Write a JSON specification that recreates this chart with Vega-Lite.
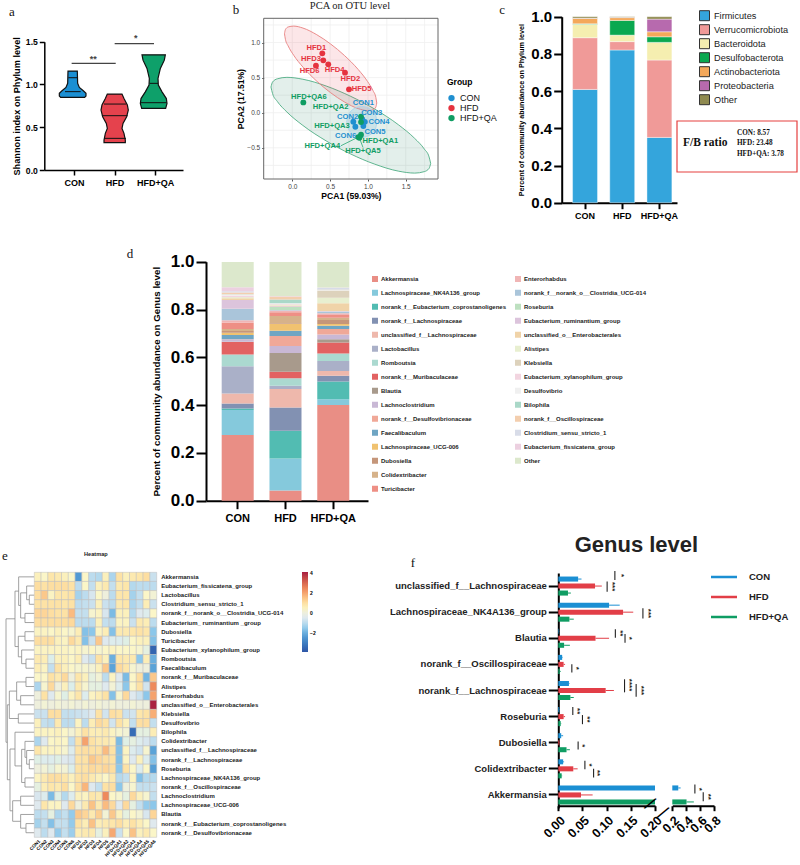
{"$schema":"https://vega.github.io/schema/vega-lite/v6.json","width":800,"height":865,"padding":0,"autosize":{"type":"none"},"background":"white",
"config":{"view":{"stroke":null},"axis":{"grid":false,"labelFont":"Liberation Sans","titleFont":"Liberation Sans","domainColor":"#000","tickColor":"#000","labelColor":"#000","titleColor":"#000"},"legend":{"labelFont":"Liberation Sans","titleFont":"Liberation Sans"},"text":{"font":"Liberation Sans"}},
"datasets":{
"violin":[{"g":"CON","y":1.157,"lo":0.852,"hi":1.082},{"g":"CON","y":1.013,"lo":0.844,"hi":1.09},{"g":"CON","y":0.966,"lo":0.802,"hi":1.132},{"g":"CON","y":0.927,"lo":0.704,"hi":1.23},{"g":"CON","y":0.896,"lo":0.638,"hi":1.296},{"g":"CON","y":0.865,"lo":0.638,"hi":1.296},{"g":"CON","y":0.849,"lo":0.671,"hi":1.263},
{"g":"HFD","y":0.888,"lo":1.823,"hi":2.185},{"g":"HFD","y":0.837,"lo":1.774,"hi":2.234},{"g":"HFD","y":0.76,"lo":1.691,"hi":2.317},{"g":"HFD","y":0.701,"lo":1.667,"hi":2.341},{"g":"HFD","y":0.623,"lo":1.708,"hi":2.3},{"g":"HFD","y":0.545,"lo":1.798,"hi":2.21},{"g":"HFD","y":0.487,"lo":1.823,"hi":2.185},{"g":"HFD","y":0.428,"lo":1.774,"hi":2.234},{"g":"HFD","y":0.35,"lo":1.741,"hi":2.267},{"g":"HFD","y":0.319,"lo":1.741,"hi":2.267},
{"g":"HFD+QA","y":1.346,"lo":2.679,"hi":3.255},{"g":"HFD+QA","y":1.284,"lo":2.704,"hi":3.23},{"g":"HFD+QA","y":1.187,"lo":2.802,"hi":3.132},{"g":"HFD+QA","y":1.07,"lo":2.86,"hi":3.074},{"g":"HFD+QA","y":0.992,"lo":2.852,"hi":3.082},{"g":"HFD+QA","y":0.914,"lo":2.761,"hi":3.173},{"g":"HFD+QA","y":0.835,"lo":2.654,"hi":3.28},{"g":"HFD+QA","y":0.777,"lo":2.638,"hi":3.296},{"g":"HFD+QA","y":0.72,"lo":2.671,"hi":3.263}],
"vlines":[{"y":1.079,"x":0.86,"x2":1.082},{"y":0.916,"x":0.778,"x2":1.165},{"y":0.771,"x":1.741,"x2":2.284},{"y":0.635,"x":1.69,"x2":2.325},{"y":0.37,"x":1.741,"x2":2.284},{"y":1.013,"x":2.868,"x2":3.074},{"y":0.787,"x":2.646,"x2":3.288}],
"vsig":[{"x":0.942,"x2":2.03,"y":1.247,"sx":1.477,"sy":1.3,"t":"**"},{"x":2.004,"x2":2.975,"y":1.477,"sx":2.523,"sy":1.54,"t":"*"}],
"ell":[{"g":"HFD+QA","x":-0.282,"lo":0.366,"hi":0.366},{"g":"HFD+QA","x":-0.261,"lo":0.273,"hi":0.437},{"g":"HFD+QA","x":-0.198,"lo":0.161,"hi":0.483},{"g":"HFD+QA","x":-0.071,"lo":0.01,"hi":0.504},{"g":"HFD+QA","x":0.14,"lo":-0.181,"hi":0.477},{"g":"HFD+QA","x":0.457,"lo":-0.407,"hi":0.377},{"g":"HFD+QA","x":0.774,"lo":-0.589,"hi":0.233},{"g":"HFD+QA","x":1.091,"lo":-0.733,"hi":0.051},{"g":"HFD+QA","x":1.408,"lo":-0.833,"hi":-0.175},{"g":"HFD+QA","x":1.619,"lo":-0.86,"hi":-0.366},{"g":"HFD+QA","x":1.746,"lo":-0.839,"hi":-0.517},{"g":"HFD+QA","x":1.809,"lo":-0.793,"hi":-0.629},{"g":"HFD+QA","x":1.83,"lo":-0.722,"hi":-0.722},
{"g":"HFD","x":-0.103,"lo":1.125,"hi":1.125},{"g":"HFD","x":-0.091,"lo":1.046,"hi":1.184},{"g":"HFD","x":-0.054,"lo":0.95,"hi":1.222},{"g":"HFD","x":0.019,"lo":0.818,"hi":1.234},{"g":"HFD","x":0.141,"lo":0.65,"hi":1.206},{"g":"HFD","x":0.324,"lo":0.449,"hi":1.111},{"g":"HFD","x":0.507,"lo":0.285,"hi":0.979},{"g":"HFD","x":0.69,"lo":0.153,"hi":0.815},{"g":"HFD","x":0.873,"lo":0.058,"hi":0.614},{"g":"HFD","x":0.995,"lo":0.03,"hi":0.446},{"g":"HFD","x":1.068,"lo":0.042,"hi":0.314},{"g":"HFD","x":1.105,"lo":0.08,"hi":0.218},{"g":"HFD","x":1.117,"lo":0.139,"hi":0.139},
{"g":"CON","x":0.72,"lo":-0.13,"hi":-0.13},{"g":"CON","x":0.736,"lo":-0.216,"hi":-0.044},{"g":"CON","x":0.76,"lo":-0.262,"hi":0.002},{"g":"CON","x":0.8,"lo":-0.306,"hi":0.046},{"g":"CON","x":0.86,"lo":-0.34,"hi":0.08},{"g":"CON","x":0.92,"lo":-0.35,"hi":0.09},{"g":"CON","x":0.98,"lo":-0.34,"hi":0.08},{"g":"CON","x":1.04,"lo":-0.306,"hi":0.046},{"g":"CON","x":1.08,"lo":-0.262,"hi":0.002},{"g":"CON","x":1.104,"lo":-0.216,"hi":-0.044},{"g":"CON","x":1.12,"lo":-0.13,"hi":-0.13}],
"pca":[{"n":"HFD1","g":"HFD","x":0.397,"y":0.846,"lx":0.318,"ly":0.922},{"n":"HFD3","g":"HFD","x":0.41,"y":0.746,"lx":0.247,"ly":0.77},{"n":"HFD4","g":"HFD","x":0.476,"y":0.689,"lx":0.56,"ly":0.613},{"n":"HFD6","g":"HFD","x":0.313,"y":0.67,"lx":0.229,"ly":0.594},{"n":"HFD2","g":"HFD","x":0.697,"y":0.57,"lx":0.768,"ly":0.475},{"n":"HFD5","g":"HFD","x":0.75,"y":0.333,"lx":0.917,"ly":0.333},
{"n":"CON1","g":"CON","x":0.92,"y":-0.09,"lx":0.94,"ly":0.133},{"n":"CON2","g":"CON","x":0.807,"y":-0.128,"lx":0.732,"ly":-0.057},{"n":"CON3","g":"CON","x":0.926,"y":-0.095,"lx":1.05,"ly":-0.005},{"n":"CON4","g":"CON","x":0.96,"y":-0.13,"lx":1.147,"ly":-0.138},{"n":"CON5","g":"CON","x":0.94,"y":-0.19,"lx":1.094,"ly":-0.271},{"n":"CON6","g":"CON","x":0.834,"y":-0.2,"lx":0.706,"ly":-0.333},
{"n":"HFD+QA1","g":"HFD+QA","x":0.909,"y":-0.314,"lx":1.165,"ly":-0.409},{"n":"HFD+QA2","g":"HFD+QA","x":0.909,"y":-0.057,"lx":0.507,"ly":0.081},{"n":"HFD+QA3","g":"HFD+QA","x":0.909,"y":-0.133,"lx":0.525,"ly":-0.195},{"n":"HFD+QA4","g":"HFD+QA","x":0.873,"y":-0.347,"lx":0.397,"ly":-0.47},{"n":"HFD+QA5","g":"HFD+QA","x":0.887,"y":-0.356,"lx":0.935,"ly":-0.546},{"n":"HFD+QA6","g":"HFD+QA","x":0.146,"y":0.147,"lx":0.22,"ly":0.223}],
"pcalink":[{"x":0.644,"y":-0.47,"x2":0.873,"y2":-0.347},{"x":0.935,"y":-0.494,"x2":0.887,"y2":-0.356},{"x":0.94,"y":-0.366,"x2":0.909,"y2":-0.314}],
"letters":[{"t":"a","x":-3.708,"y":1.434},{"t":"b","x":-0.745,"y":1.463},{"t":"c","x":2.774,"y":1.463},{"t":"d","x":-2.147,"y":-2.013},{"t":"e","x":-3.8,"y":-6.315},{"t":"f","x":1.596,"y":-6.415}],
"phylum":[{"g":"CON","p":"Firmicutes","o":1,"v":0.609},{"g":"CON","p":"Verrucomicrobiota","o":2,"v":0.278},{"g":"CON","p":"Bacteroidota","o":3,"v":0.072},{"g":"CON","p":"Desulfobacterota","o":4,"v":0.003},{"g":"CON","p":"Actinobacteriota","o":5,"v":0.029},{"g":"CON","p":"Proteobacteria","o":6,"v":0.001},{"g":"CON","p":"Other","o":7,"v":0.008},
{"g":"HFD","p":"Firmicutes","o":1,"v":0.821},{"g":"HFD","p":"Verrucomicrobiota","o":2,"v":0.045},{"g":"HFD","p":"Bacteroidota","o":3,"v":0.035},{"g":"HFD","p":"Desulfobacterota","o":4,"v":0.079},{"g":"HFD","p":"Actinobacteriota","o":5,"v":0.015},{"g":"HFD","p":"Proteobacteria","o":6,"v":0.002},{"g":"HFD","p":"Other","o":7,"v":0.003},
{"g":"HFD+QA","p":"Firmicutes","o":1,"v":0.351},{"g":"HFD+QA","p":"Verrucomicrobiota","o":2,"v":0.416},{"g":"HFD+QA","p":"Bacteroidota","o":3,"v":0.095},{"g":"HFD+QA","p":"Desulfobacterota","o":4,"v":0.03},{"g":"HFD+QA","p":"Actinobacteriota","o":5,"v":0.027},{"g":"HFD+QA","p":"Proteobacteria","o":6,"v":0.068},{"g":"HFD+QA","p":"Other","o":7,"v":0.013}],
"fb":[{"t":"CON: 8.57","x":0.5,"y":0.765},{"t":"HFD: 23.48","x":0.5,"y":0.57},{"t":"HFD+QA: 3.78","x":0.5,"y":0.36}],
"genera":[{"i":1,"name":"Akkermansia"},{"i":2,"name":"Lachnospiraceae_NK4A136_group"},{"i":3,"name":"norank_f__Eubacterium_coprostanoligenes"},{"i":4,"name":"norank_f__Lachnospiraceae"},{"i":5,"name":"unclassified_f__Lachnospiraceae"},{"i":6,"name":"Lactobacillus"},{"i":7,"name":"Romboutsia"},{"i":8,"name":"norank_f__Muribaculaceae"},{"i":9,"name":"Blautia"},{"i":10,"name":"Lachnoclostridium"},{"i":11,"name":"norank_f__Desulfovibrionaceae"},{"i":12,"name":"Faecalibaculum"},{"i":13,"name":"Lachnospiraceae_UCG-006"},{"i":14,"name":"Dubosiella"},{"i":15,"name":"Colidextribacter"},{"i":16,"name":"Turicibacter"},{"i":17,"name":"Enterorhabdus"},{"i":18,"name":"norank_f__norank_o__Clostridia_UCG-014"},{"i":19,"name":"Roseburia"},{"i":20,"name":"Eubacterium_ruminantium_group"},{"i":21,"name":"unclassified_o__Enterobacterales"},{"i":22,"name":"Alistipes"},{"i":23,"name":"Klebsiella"},{"i":24,"name":"Eubacterium_xylanophilum_group"},{"i":25,"name":"Desulfovibrio"},{"i":26,"name":"Bilophila"},{"i":27,"name":"norank_f__Oscillospiraceae"},{"i":28,"name":"Clostridium_sensu_stricto_1"},{"i":29,"name":"Eubacterium_fissicatena_group"},{"i":30,"name":"Other"},{"i":31,"name":" "}],
"genus":[{"g":"CON","i":1,"v":0.275},{"g":"CON","i":2,"v":0.104},{"g":"CON","i":3,"v":0.007},{"g":"CON","i":4,"v":0.021},{"g":"CON","i":5,"v":0.042},{"g":"CON","i":6,"v":0.114},{"g":"CON","i":7,"v":0.049},{"g":"CON","i":8,"v":0.052},{"g":"CON","i":9,"v":0.001},{"g":"CON","i":10,"v":0.01},{"g":"CON","i":11,"v":0.001},{"g":"CON","i":12,"v":0.017},{"g":"CON","i":13,"v":0.01},{"g":"CON","i":14,"v":0.007},{"g":"CON","i":15,"v":0.008},{"g":"CON","i":16,"v":0.027},{"g":"CON","i":17,"v":0.01},{"g":"CON","i":18,"v":0.047},{"g":"CON","i":19,"v":0.001},{"g":"CON","i":20,"v":0.037},{"g":"CON","i":21,"v":0.007},{"g":"CON","i":22,"v":0.004},{"g":"CON","i":23,"v":0.001},{"g":"CON","i":24,"v":0.007},{"g":"CON","i":25,"v":0.004},{"g":"CON","i":26,"v":0.001},{"g":"CON","i":27,"v":0.007},{"g":"CON","i":28,"v":0.005},{"g":"CON","i":29,"v":0.017},{"g":"CON","i":30,"v":0.106},{"g":"CON","i":31,"v":0},
{"g":"HFD","i":1,"v":0.043},{"g":"HFD","i":2,"v":0.134},{"g":"HFD","i":3,"v":0.116},{"g":"HFD","i":4,"v":0.097},{"g":"HFD","i":5,"v":0.077},{"g":"HFD","i":6,"v":0.014},{"g":"HFD","i":7,"v":0.031},{"g":"HFD","i":8,"v":0.028},{"g":"HFD","i":9,"v":0.078},{"g":"HFD","i":10,"v":0.029},{"g":"HFD","i":11,"v":0.042},{"g":"HFD","i":12,"v":0.022},{"g":"HFD","i":13,"v":0.028},{"g":"HFD","i":14,"v":0.003},{"g":"HFD","i":15,"v":0.031},{"g":"HFD","i":16,"v":0.016},{"g":"HFD","i":17,"v":0.007},{"g":"HFD","i":18,"v":0.002},{"g":"HFD","i":19,"v":0.012},{"g":"HFD","i":20,"v":0.004},{"g":"HFD","i":21,"v":0.003},{"g":"HFD","i":22,"v":0.003},{"g":"HFD","i":23,"v":0.001},{"g":"HFD","i":24,"v":0.002},{"g":"HFD","i":25,"v":0.003},{"g":"HFD","i":26,"v":0.016},{"g":"HFD","i":27,"v":0.012},{"g":"HFD","i":28,"v":0.001},{"g":"HFD","i":29,"v":0.001},{"g":"HFD","i":30,"v":0.143},
{"g":"HFD+QA","i":1,"v":0.4},{"g":"HFD+QA","i":2,"v":0.024},{"g":"HFD+QA","i":3,"v":0.075},{"g":"HFD+QA","i":4,"v":0.024},{"g":"HFD+QA","i":5,"v":0.02},{"g":"HFD+QA","i":6,"v":0.041},{"g":"HFD+QA","i":7,"v":0.032},{"g":"HFD+QA","i":8,"v":0.046},{"g":"HFD+QA","i":9,"v":0.014},{"g":"HFD+QA","i":10,"v":0.019},{"g":"HFD+QA","i":11,"v":0.023},{"g":"HFD+QA","i":12,"v":0.014},{"g":"HFD+QA","i":13,"v":0.007},{"g":"HFD+QA","i":14,"v":0.017},{"g":"HFD+QA","i":15,"v":0.01},{"g":"HFD+QA","i":16,"v":0.011},{"g":"HFD+QA","i":17,"v":0.007},{"g":"HFD+QA","i":18,"v":0.007},{"g":"HFD+QA","i":19,"v":0.001},{"g":"HFD+QA","i":20,"v":0.002},{"g":"HFD+QA","i":21,"v":0.032},{"g":"HFD+QA","i":22,"v":0.023},{"g":"HFD+QA","i":23,"v":0.03},{"g":"HFD+QA","i":24,"v":0.001},{"g":"HFD+QA","i":25,"v":0.002},{"g":"HFD+QA","i":26,"v":0.001},{"g":"HFD+QA","i":27,"v":0.001},{"g":"HFD+QA","i":28,"v":0.007},{"g":"HFD+QA","i":29,"v":0.001},{"g":"HFD+QA","i":30,"v":0.107}],
"dendro":[{"m":88,"ya":3,"xa":103,"yb":4,"xb":103},{"m":75,"ya":5,"xa":103,"yb":6,"xb":103},{"m":80,"ya":2,"xa":103,"yb":3.5,"xb":88},{"m":62,"ya":2.75,"xa":80,"yb":5.5,"xb":75},{"m":56,"ya":1,"xa":103,"yb":4.125,"xb":62},{"m":75,"ya":7,"xa":103,"yb":8,"xb":103},{"m":78,"ya":10,"xa":103,"yb":11,"xb":103},{"m":65,"ya":9,"xa":103,"yb":10.5,"xb":78},{"m":55,"ya":7.5,"xa":75,"yb":9.75,"xb":65},{"m":45,"ya":2.56,"xa":56,"yb":8.625,"xb":55},{"m":78,"ya":12,"xa":103,"yb":13,"xb":103},{"m":62,"ya":14,"xa":103,"yb":15,"xb":103},{"m":50,"ya":12.5,"xa":78,"yb":14.5,"xb":62},{"m":55,"ya":16,"xa":103,"yb":17,"xb":103},{"m":28,"ya":13.5,"xa":50,"yb":16.5,"xb":55},{"m":88,"ya":21,"xa":103,"yb":22,"xb":103},{"m":80,"ya":20,"xa":103,"yb":21.5,"xb":88},{"m":75,"ya":19,"xa":103,"yb":20.75,"xb":80},{"m":75,"ya":23,"xa":103,"yb":24,"xb":103},{"m":65,"ya":19.875,"xa":75,"yb":23.5,"xb":75},{"m":45,"ya":18,"xa":103,"yb":21.69,"xb":65},{"m":62,"ya":25,"xa":103,"yb":26,"xb":103},{"m":78,"ya":28,"xa":103,"yb":29,"xb":103},{"m":62,"ya":27,"xa":103,"yb":28.5,"xb":78},{"m":38,"ya":25.5,"xa":62,"yb":27.75,"xb":62},{"m":30,"ya":19.84,"xa":45,"yb":26.6,"xb":38},{"m":22,"ya":15,"xa":28,"yb":23.2,"xb":30},{"m":18,"ya":5.59,"xa":45,"yb":19.1,"xb":22}],
"hgenera":[{"r":1,"name":"Akkermansia"},{"r":2,"name":"Eubacterium_fissicatena_group"},{"r":3,"name":"Lactobacillus"},{"r":4,"name":"Clostridium_sensu_stricto_1"},{"r":5,"name":"norank_f__norank_o__Clostridia_UCG-014"},{"r":6,"name":"Eubacterium_ ruminantium _group"},{"r":7,"name":"Dubosiella"},{"r":8,"name":"Turicibacter"},{"r":9,"name":"Eubacterium_xylanophilum_group"},{"r":10,"name":"Romboutsia"},{"r":11,"name":"Faecalibaculum"},{"r":12,"name":"norank_f__Muribaculaceae"},{"r":13,"name":"Alistipes"},{"r":14,"name":"Enterorhabdus"},{"r":15,"name":"unclassified_o__Enterobacterales"},{"r":16,"name":"Klebsiella"},{"r":17,"name":"Desulfovibrio"},{"r":18,"name":"Bilophila"},{"r":19,"name":"Colidextribacter"},{"r":20,"name":"unclassified_f__Lachnospiraceae"},{"r":21,"name":"norank_f__Lachnospiraceae"},{"r":22,"name":"Roseburia"},{"r":23,"name":"Lachnospiraceae_NK4A136_group"},{"r":24,"name":"norank_f__Oscillospiraceae"},{"r":25,"name":"Lachnoclostridium"},{"r":26,"name":"Lachnospiraceae_UCG-006"},{"r":27,"name":"Blautia"},{"r":28,"name":"norank_f__Eubacterium_coprostanoligenes"},{"r":29,"name":"norank_f__Desulfovibrionaceae"}],
"heat":[
{"r":1,"s":1,"v":0.5},{"r":1,"s":2,"v":0.3},{"r":1,"s":3,"v":0.8},{"r":1,"s":4,"v":0.7},{"r":1,"s":5,"v":0.5},{"r":1,"s":6,"v":0.3},{"r":1,"s":7,"v":-2.4},{"r":1,"s":8,"v":0.3},{"r":1,"s":9,"v":-1},{"r":1,"s":10,"v":-1.1},{"r":1,"s":11,"v":0.5},{"r":1,"s":12,"v":-1.2},{"r":1,"s":13,"v":0.9},{"r":1,"s":14,"v":0.5},{"r":1,"s":15,"v":0.7},{"r":1,"s":16,"v":0.8},{"r":1,"s":17,"v":1},{"r":1,"s":18,"v":-0.8},
{"r":2,"s":1,"v":1},{"r":2,"s":2,"v":0.9},{"r":2,"s":3,"v":1},{"r":2,"s":4,"v":1},{"r":2,"s":5,"v":1},{"r":2,"s":6,"v":0.9},{"r":2,"s":7,"v":-1},{"r":2,"s":8,"v":0.3},{"r":2,"s":9,"v":-0.9},{"r":2,"s":10,"v":0.5},{"r":2,"s":11,"v":0.7},{"r":2,"s":12,"v":-0.9},{"r":2,"s":13,"v":0.7},{"r":2,"s":14,"v":0.8},{"r":2,"s":15,"v":-1.1},{"r":2,"s":16,"v":-1},{"r":2,"s":17,"v":-1},{"r":2,"s":18,"v":-1},
{"r":3,"s":1,"v":1},{"r":3,"s":2,"v":1.4},{"r":3,"s":3,"v":0.4},{"r":3,"s":4,"v":0.8},{"r":3,"s":5,"v":0.8},{"r":3,"s":6,"v":0.9},{"r":3,"s":7,"v":-1.3},{"r":3,"s":8,"v":-1},{"r":3,"s":9,"v":-0.6},{"r":3,"s":10,"v":0.3},{"r":3,"s":11,"v":0},{"r":3,"s":12,"v":-1},{"r":3,"s":13,"v":0.8},{"r":3,"s":14,"v":0.8},{"r":3,"s":15,"v":-1.3},{"r":3,"s":16,"v":-0.9},{"r":3,"s":17,"v":0.3},{"r":3,"s":18,"v":0.1},
{"r":4,"s":1,"v":0.9},{"r":4,"s":2,"v":0.9},{"r":4,"s":3,"v":0.9},{"r":4,"s":4,"v":0.9},{"r":4,"s":5,"v":0.8},{"r":4,"s":6,"v":0.9},{"r":4,"s":7,"v":-1},{"r":4,"s":8,"v":-0.9},{"r":4,"s":9,"v":-0.8},{"r":4,"s":10,"v":0.5},{"r":4,"s":11,"v":-0.8},{"r":4,"s":12,"v":-1},{"r":4,"s":13,"v":0.7},{"r":4,"s":14,"v":0.8},{"r":4,"s":15,"v":-1.2},{"r":4,"s":16,"v":-0.9},{"r":4,"s":17,"v":0.6},{"r":4,"s":18,"v":-0.8},
{"r":5,"s":1,"v":1.2},{"r":5,"s":2,"v":1.2},{"r":5,"s":3,"v":1},{"r":5,"s":4,"v":0.9},{"r":5,"s":5,"v":0.9},{"r":5,"s":6,"v":1.6},{"r":5,"s":7,"v":-0.9},{"r":5,"s":8,"v":-0.9},{"r":5,"s":9,"v":0.2},{"r":5,"s":10,"v":0.4},{"r":5,"s":11,"v":-0.6},{"r":5,"s":12,"v":-1.8},{"r":5,"s":13,"v":0.5},{"r":5,"s":14,"v":0.5},{"r":5,"s":15,"v":-1.1},{"r":5,"s":16,"v":-0.5},{"r":5,"s":17,"v":-0.4},{"r":5,"s":18,"v":0.3},
{"r":6,"s":1,"v":1},{"r":6,"s":2,"v":1},{"r":6,"s":3,"v":1},{"r":6,"s":4,"v":1},{"r":6,"s":5,"v":1},{"r":6,"s":6,"v":1.1},{"r":6,"s":7,"v":-1},{"r":6,"s":8,"v":-1},{"r":6,"s":9,"v":-1},{"r":6,"s":10,"v":0.5},{"r":6,"s":11,"v":-0.9},{"r":6,"s":12,"v":-1},{"r":6,"s":13,"v":0.4},{"r":6,"s":14,"v":0.4},{"r":6,"s":15,"v":-0.8},{"r":6,"s":16,"v":0.7},{"r":6,"s":17,"v":0.6},{"r":6,"s":18,"v":-1},
{"r":7,"s":1,"v":0.4},{"r":7,"s":2,"v":0.4},{"r":7,"s":3,"v":0.3},{"r":7,"s":4,"v":0.5},{"r":7,"s":5,"v":0.3},{"r":7,"s":6,"v":0.2},{"r":7,"s":7,"v":0.6},{"r":7,"s":8,"v":-1.7},{"r":7,"s":9,"v":-1.6},{"r":7,"s":10,"v":0.4},{"r":7,"s":11,"v":0.6},{"r":7,"s":12,"v":-1.7},{"r":7,"s":13,"v":0.7},{"r":7,"s":14,"v":0.7},{"r":7,"s":15,"v":0.8},{"r":7,"s":16,"v":0.9},{"r":7,"s":17,"v":0.8},{"r":7,"s":18,"v":-1.6},
{"r":8,"s":1,"v":1},{"r":8,"s":2,"v":1},{"r":8,"s":3,"v":1},{"r":8,"s":4,"v":0.5},{"r":8,"s":5,"v":0.4},{"r":8,"s":6,"v":1.1},{"r":8,"s":7,"v":0.7},{"r":8,"s":8,"v":-1.7},{"r":8,"s":9,"v":-0.8},{"r":8,"s":10,"v":1.4},{"r":8,"s":11,"v":-0.5},{"r":8,"s":12,"v":-0.4},{"r":8,"s":13,"v":-0.4},{"r":8,"s":14,"v":-0.2},{"r":8,"s":15,"v":0.3},{"r":8,"s":16,"v":0.5},{"r":8,"s":17,"v":0.5},{"r":8,"s":18,"v":-1.7},
{"r":9,"s":1,"v":0.4},{"r":9,"s":2,"v":0.4},{"r":9,"s":3,"v":0.4},{"r":9,"s":4,"v":0.4},{"r":9,"s":5,"v":0.4},{"r":9,"s":6,"v":0.3},{"r":9,"s":7,"v":0.4},{"r":9,"s":8,"v":0.2},{"r":9,"s":9,"v":0.3},{"r":9,"s":10,"v":0.2},{"r":9,"s":11,"v":0.3},{"r":9,"s":12,"v":0.4},{"r":9,"s":13,"v":0.3},{"r":9,"s":14,"v":0.3},{"r":9,"s":15,"v":0.3},{"r":9,"s":16,"v":0.2},{"r":9,"s":17,"v":-0.1},{"r":9,"s":18,"v":-3.6},
{"r":10,"s":1,"v":0.7},{"r":10,"s":2,"v":0.6},{"r":10,"s":3,"v":-0.3},{"r":10,"s":4,"v":0.5},{"r":10,"s":5,"v":0.5},{"r":10,"s":6,"v":0.3},{"r":10,"s":7,"v":0.6},{"r":10,"s":8,"v":-0.5},{"r":10,"s":9,"v":-0.8},{"r":10,"s":10,"v":0.9},{"r":10,"s":11,"v":0.5},{"r":10,"s":12,"v":-2},{"r":10,"s":13,"v":0.8},{"r":10,"s":14,"v":0.7},{"r":10,"s":15,"v":0.7},{"r":10,"s":16,"v":-1.6},{"r":10,"s":17,"v":0.6},{"r":10,"s":18,"v":-2},
{"r":11,"s":1,"v":0.6},{"r":11,"s":2,"v":0.4},{"r":11,"s":3,"v":-0.9},{"r":11,"s":4,"v":0.9},{"r":11,"s":5,"v":0.5},{"r":11,"s":6,"v":0.3},{"r":11,"s":7,"v":0.2},{"r":11,"s":8,"v":0.2},{"r":11,"s":9,"v":0.1},{"r":11,"s":10,"v":0.5},{"r":11,"s":11,"v":1.4},{"r":11,"s":12,"v":-2.2},{"r":11,"s":13,"v":1.1},{"r":11,"s":14,"v":0.8},{"r":11,"s":15,"v":0.2},{"r":11,"s":16,"v":0},{"r":11,"s":17,"v":0},{"r":11,"s":18,"v":-2.2},
{"r":12,"s":1,"v":0.3},{"r":12,"s":2,"v":0.3},{"r":12,"s":3,"v":0.9},{"r":12,"s":4,"v":0.7},{"r":12,"s":5,"v":1.1},{"r":12,"s":6,"v":0},{"r":12,"s":7,"v":0.8},{"r":12,"s":8,"v":0.5},{"r":12,"s":9,"v":-0.1},{"r":12,"s":10,"v":0.1},{"r":12,"s":11,"v":-1},{"r":12,"s":12,"v":0.4},{"r":12,"s":13,"v":-0.5},{"r":12,"s":14,"v":-1.8},{"r":12,"s":15,"v":0.3},{"r":12,"s":16,"v":1},{"r":12,"s":17,"v":-1.9},{"r":12,"s":18,"v":1.4},
{"r":13,"s":1,"v":-1.2},{"r":13,"s":2,"v":0.2},{"r":13,"s":3,"v":1.1},{"r":13,"s":4,"v":0},{"r":13,"s":5,"v":0.5},{"r":13,"s":6,"v":-0.3},{"r":13,"s":7,"v":0.7},{"r":13,"s":8,"v":0.2},{"r":13,"s":9,"v":-0.1},{"r":13,"s":10,"v":-0.1},{"r":13,"s":11,"v":-0.5},{"r":13,"s":12,"v":0.1},{"r":13,"s":13,"v":-0.4},{"r":13,"s":14,"v":-1.6},{"r":13,"s":15,"v":0.3},{"r":13,"s":16,"v":0.9},{"r":13,"s":17,"v":-0.7},{"r":13,"s":18,"v":2.4},
{"r":14,"s":1,"v":0},{"r":14,"s":2,"v":0.9},{"r":14,"s":3,"v":-0.5},{"r":14,"s":4,"v":0.2},{"r":14,"s":5,"v":-0.2},{"r":14,"s":6,"v":0.4},{"r":14,"s":7,"v":0.8},{"r":14,"s":8,"v":-0.4},{"r":14,"s":9,"v":0.4},{"r":14,"s":10,"v":0.6},{"r":14,"s":11,"v":0.9},{"r":14,"s":12,"v":-1.7},{"r":14,"s":13,"v":0.2},{"r":14,"s":14,"v":1.1},{"r":14,"s":15,"v":-0.5},{"r":14,"s":16,"v":-0.8},{"r":14,"s":17,"v":-1.6},{"r":14,"s":18,"v":2},
{"r":15,"s":1,"v":0},{"r":15,"s":2,"v":0.1},{"r":15,"s":3,"v":0},{"r":15,"s":4,"v":0.1},{"r":15,"s":5,"v":0},{"r":15,"s":6,"v":0.1},{"r":15,"s":7,"v":0},{"r":15,"s":8,"v":0.1},{"r":15,"s":9,"v":0},{"r":15,"s":10,"v":0.1},{"r":15,"s":11,"v":0},{"r":15,"s":12,"v":0.1},{"r":15,"s":13,"v":0},{"r":15,"s":14,"v":0},{"r":15,"s":15,"v":0.1},{"r":15,"s":16,"v":0},{"r":15,"s":17,"v":0},{"r":15,"s":18,"v":4},
{"r":16,"s":1,"v":-0.8},{"r":16,"s":2,"v":-0.8},{"r":16,"s":3,"v":1},{"r":16,"s":4,"v":1},{"r":16,"s":5,"v":-0.9},{"r":16,"s":6,"v":-0.9},{"r":16,"s":7,"v":-0.8},{"r":16,"s":8,"v":-0.7},{"r":16,"s":9,"v":-0.5},{"r":16,"s":10,"v":0.9},{"r":16,"s":11,"v":-0.7},{"r":16,"s":12,"v":1},{"r":16,"s":13,"v":0.9},{"r":16,"s":14,"v":-0.8},{"r":16,"s":15,"v":-0.7},{"r":16,"s":16,"v":0.8},{"r":16,"s":17,"v":0.9},{"r":16,"s":18,"v":1.8},
{"r":17,"s":1,"v":0.5},{"r":17,"s":2,"v":-0.9},{"r":17,"s":3,"v":-1},{"r":17,"s":4,"v":0.7},{"r":17,"s":5,"v":-1},{"r":17,"s":6,"v":-1},{"r":17,"s":7,"v":0.4},{"r":17,"s":8,"v":-1},{"r":17,"s":9,"v":0.6},{"r":17,"s":10,"v":1.1},{"r":17,"s":11,"v":0.9},{"r":17,"s":12,"v":-0.7},{"r":17,"s":13,"v":0.9},{"r":17,"s":14,"v":0.5},{"r":17,"s":15,"v":-0.9},{"r":17,"s":16,"v":1},{"r":17,"s":17,"v":1},{"r":17,"s":18,"v":-0.9},
{"r":18,"s":1,"v":0.4},{"r":18,"s":2,"v":0.4},{"r":18,"s":3,"v":0.4},{"r":18,"s":4,"v":0.5},{"r":18,"s":5,"v":0.3},{"r":18,"s":6,"v":0.1},{"r":18,"s":7,"v":0.5},{"r":18,"s":8,"v":0.9},{"r":18,"s":9,"v":0.6},{"r":18,"s":10,"v":0.6},{"r":18,"s":11,"v":0.7},{"r":18,"s":12,"v":0.4},{"r":18,"s":13,"v":0.2},{"r":18,"s":14,"v":0.1},{"r":18,"s":15,"v":-3.4},{"r":18,"s":16,"v":-0.1},{"r":18,"s":17,"v":-0.1},{"r":18,"s":18,"v":0.6},
{"r":19,"s":1,"v":-1.2},{"r":19,"s":2,"v":-0.5},{"r":19,"s":3,"v":0.3},{"r":19,"s":4,"v":0.4},{"r":19,"s":5,"v":0.3},{"r":19,"s":6,"v":-0.9},{"r":19,"s":7,"v":0.9},{"r":19,"s":8,"v":2},{"r":19,"s":9,"v":0.9},{"r":19,"s":10,"v":0.7},{"r":19,"s":11,"v":0.7},{"r":19,"s":12,"v":0.6},{"r":19,"s":13,"v":-1.8},{"r":19,"s":14,"v":-0.2},{"r":19,"s":15,"v":-0.1},{"r":19,"s":16,"v":-0.4},{"r":19,"s":17,"v":-0.6},{"r":19,"s":18,"v":-1},
{"r":20,"s":1,"v":0.8},{"r":20,"s":2,"v":0.4},{"r":20,"s":3,"v":0.4},{"r":20,"s":4,"v":0.4},{"r":20,"s":5,"v":0.2},{"r":20,"s":6,"v":-0.4},{"r":20,"s":7,"v":0.9},{"r":20,"s":8,"v":1},{"r":20,"s":9,"v":0.9},{"r":20,"s":10,"v":0.9},{"r":20,"s":11,"v":1.6},{"r":20,"s":12,"v":0.9},{"r":20,"s":13,"v":-1.7},{"r":20,"s":14,"v":0.4},{"r":20,"s":15,"v":-0.4},{"r":20,"s":16,"v":-0.7},{"r":20,"s":17,"v":0.2},{"r":20,"s":18,"v":-2.2},
{"r":21,"s":1,"v":-0.2},{"r":21,"s":2,"v":-0.4},{"r":21,"s":3,"v":-0.4},{"r":21,"s":4,"v":-0.2},{"r":21,"s":5,"v":-0.5},{"r":21,"s":6,"v":-0.6},{"r":21,"s":7,"v":0.9},{"r":21,"s":8,"v":0.9},{"r":21,"s":9,"v":1.4},{"r":21,"s":10,"v":1.2},{"r":21,"s":11,"v":1},{"r":21,"s":12,"v":0.9},{"r":21,"s":13,"v":-1.7},{"r":21,"s":14,"v":0.4},{"r":21,"s":15,"v":-0.5},{"r":21,"s":16,"v":0.5},{"r":21,"s":17,"v":-0.4},{"r":21,"s":18,"v":-1.7},
{"r":22,"s":1,"v":0},{"r":22,"s":2,"v":0.1},{"r":22,"s":3,"v":-0.1},{"r":22,"s":4,"v":0.2},{"r":22,"s":5,"v":0.1},{"r":22,"s":6,"v":-0.3},{"r":22,"s":7,"v":0.9},{"r":22,"s":8,"v":0.9},{"r":22,"s":9,"v":1.1},{"r":22,"s":10,"v":1},{"r":22,"s":11,"v":1.2},{"r":22,"s":12,"v":1},{"r":22,"s":13,"v":-1.6},{"r":22,"s":14,"v":0.9},{"r":22,"s":15,"v":0.3},{"r":22,"s":16,"v":-0.4},{"r":22,"s":17,"v":0.3},{"r":22,"s":18,"v":-2.3},
{"r":23,"s":1,"v":0.4},{"r":23,"s":2,"v":0.7},{"r":23,"s":3,"v":1},{"r":23,"s":4,"v":1},{"r":23,"s":5,"v":0.8},{"r":23,"s":6,"v":0.5},{"r":23,"s":7,"v":0.9},{"r":23,"s":8,"v":1},{"r":23,"s":9,"v":0.7},{"r":23,"s":10,"v":0.5},{"r":23,"s":11,"v":0.3},{"r":23,"s":12,"v":0.7},{"r":23,"s":13,"v":-1.1},{"r":23,"s":14,"v":-0.9},{"r":23,"s":15,"v":0.4},{"r":23,"s":16,"v":-1.7},{"r":23,"s":17,"v":-1.1},{"r":23,"s":18,"v":-1.1},
{"r":24,"s":1,"v":-0.1},{"r":24,"s":2,"v":0.6},{"r":24,"s":3,"v":0.8},{"r":24,"s":4,"v":0.7},{"r":24,"s":5,"v":1},{"r":24,"s":6,"v":0.3},{"r":24,"s":7,"v":1},{"r":24,"s":8,"v":1.7},{"r":24,"s":9,"v":-0.5},{"r":24,"s":10,"v":-0.9},{"r":24,"s":11,"v":0.9},{"r":24,"s":12,"v":1},{"r":24,"s":13,"v":-1.6},{"r":24,"s":14,"v":0},{"r":24,"s":15,"v":0.2},{"r":24,"s":16,"v":-0.9},{"r":24,"s":17,"v":-0.9},{"r":24,"s":18,"v":-0.8},
{"r":25,"s":1,"v":-0.6},{"r":25,"s":2,"v":-0.4},{"r":25,"s":3,"v":-1.8},{"r":25,"s":4,"v":-0.2},{"r":25,"s":5,"v":-1.1},{"r":25,"s":6,"v":-0.4},{"r":25,"s":7,"v":0.5},{"r":25,"s":8,"v":0.4},{"r":25,"s":9,"v":0.8},{"r":25,"s":10,"v":0.7},{"r":25,"s":11,"v":2.4},{"r":25,"s":12,"v":0.3},{"r":25,"s":13,"v":0.2},{"r":25,"s":14,"v":-0.1},{"r":25,"s":15,"v":1.1},{"r":25,"s":16,"v":0.5},{"r":25,"s":17,"v":0.2},{"r":25,"s":18,"v":-0.9},
{"r":26,"s":1,"v":-0.5},{"r":26,"s":2,"v":0.8},{"r":26,"s":3,"v":0.4},{"r":26,"s":4,"v":0.4},{"r":26,"s":5,"v":-0.5},{"r":26,"s":6,"v":1.1},{"r":26,"s":7,"v":0},{"r":26,"s":8,"v":0.7},{"r":26,"s":9,"v":1.5},{"r":26,"s":10,"v":0.7},{"r":26,"s":11,"v":1.6},{"r":26,"s":12,"v":1.1},{"r":26,"s":13,"v":-0.5},{"r":26,"s":14,"v":1.1},{"r":26,"s":15,"v":-0.1},{"r":26,"s":16,"v":-0.9},{"r":26,"s":17,"v":-1.5},{"r":26,"s":18,"v":-1.6},
{"r":27,"s":1,"v":-1},{"r":27,"s":2,"v":-0.9},{"r":27,"s":3,"v":-0.1},{"r":27,"s":4,"v":-1.2},{"r":27,"s":5,"v":-0.9},{"r":27,"s":6,"v":-1.5},{"r":27,"s":7,"v":1.4},{"r":27,"s":8,"v":1.2},{"r":27,"s":9,"v":0.7},{"r":27,"s":10,"v":1.3},{"r":27,"s":11,"v":0.1},{"r":27,"s":12,"v":1.4},{"r":27,"s":13,"v":0.5},{"r":27,"s":14,"v":-0.1},{"r":27,"s":15,"v":0.3},{"r":27,"s":16,"v":0.1},{"r":27,"s":17,"v":-0.6},{"r":27,"s":18,"v":1.2},
{"r":28,"s":1,"v":-1.3},{"r":28,"s":2,"v":-0.9},{"r":28,"s":3,"v":-1.7},{"r":28,"s":4,"v":-0.9},{"r":28,"s":5,"v":-0.9},{"r":28,"s":6,"v":-1.5},{"r":28,"s":7,"v":0.9},{"r":28,"s":8,"v":0.6},{"r":28,"s":9,"v":1.5},{"r":28,"s":10,"v":0.6},{"r":28,"s":11,"v":0.7},{"r":28,"s":12,"v":0.8},{"r":28,"s":13,"v":1},{"r":28,"s":14,"v":0.6},{"r":28,"s":15,"v":0.9},{"r":28,"s":16,"v":0.6},{"r":28,"s":17,"v":0.3},{"r":28,"s":18,"v":-0.5},
{"r":29,"s":1,"v":-0.5},{"r":29,"s":2,"v":-1},{"r":29,"s":3,"v":-0.5},{"r":29,"s":4,"v":-1.5},{"r":29,"s":5,"v":-0.9},{"r":29,"s":6,"v":-1.4},{"r":29,"s":7,"v":0.6},{"r":29,"s":8,"v":0.7},{"r":29,"s":9,"v":0.7},{"r":29,"s":10,"v":-0.1},{"r":29,"s":11,"v":0.5},{"r":29,"s":12,"v":1.9},{"r":29,"s":13,"v":-0.8},{"r":29,"s":14,"v":0.3},{"r":29,"s":15,"v":1.5},{"r":29,"s":16,"v":0.5},{"r":29,"s":17,"v":0.7},{"r":29,"s":18,"v":0.3}],
"fbars":[{"c":"unclassified_f__Lachnospiraceae","g":"CON","v":0.041,"hi":0.048},{"c":"unclassified_f__Lachnospiraceae","g":"HFD","v":0.076,"hi":0.09},{"c":"unclassified_f__Lachnospiraceae","g":"HFD+QA","v":0.02,"hi":0.026},
{"c":"Lachnospiraceae_NK4A136_group","g":"CON","v":0.105,"hi":0.127},{"c":"Lachnospiraceae_NK4A136_group","g":"HFD","v":0.134,"hi":0.155},{"c":"Lachnospiraceae_NK4A136_group","g":"HFD+QA","v":0.023,"hi":0.032},
{"c":"Blautia","g":"CON","v":0.001,"hi":0.002},{"c":"Blautia","g":"HFD","v":0.077,"hi":0.105},{"c":"Blautia","g":"HFD+QA","v":0.012,"hi":0.024},
{"c":"norank_f__Oscillospiraceae","g":"CON","v":0.008,"hi":0.009},{"c":"norank_f__Oscillospiraceae","g":"HFD","v":0.011,"hi":0.014},{"c":"norank_f__Oscillospiraceae","g":"HFD+QA","v":0.003,"hi":0.005},
{"c":"norank_f__Lachnospiraceae","g":"CON","v":0.022,"hi":0.023},{"c":"norank_f__Lachnospiraceae","g":"HFD","v":0.098,"hi":0.115},{"c":"norank_f__Lachnospiraceae","g":"HFD+QA","v":0.025,"hi":0.032},
{"c":"Roseburia","g":"CON","v":0.002,"hi":0.003},{"c":"Roseburia","g":"HFD","v":0.011,"hi":0.014},{"c":"Roseburia","g":"HFD+QA","v":0.005,"hi":0.006},
{"c":"Dubosiella","g":"CON","v":0.006,"hi":0.01},{"c":"Dubosiella","g":"HFD","v":0.002,"hi":0.003},{"c":"Dubosiella","g":"HFD+QA","v":0.017,"hi":0.024},
{"c":"Colidextribacter","g":"CON","v":0.01,"hi":0.012},{"c":"Colidextribacter","g":"HFD","v":0.031,"hi":0.04},{"c":"Colidextribacter","g":"HFD+QA","v":0.007,"hi":0.008},
{"c":"Akkermansia","g":"CON","v":0.286,"hi":0.32},{"c":"Akkermansia","g":"HFD","v":0.047,"hi":0.071},{"c":"Akkermansia","g":"HFD+QA","v":0.405,"hi":0.51}],
"fsig":[{"x":0.117,"y":0.42,"y2":0.77,"sx":0.129,"sy":0.6,"t":"*"},{"x":0.101,"y":0.83,"y2":1.22,"sx":0.112,"sy":1.02,"t":"***"},{"x":0.175,"y":1.85,"y2":2.24,"sx":0.186,"sy":2.05,"t":"***"},{"x":0.118,"y":2.65,"y2":2.98,"sx":0.127,"sy":2.81,"t":"**"},{"x":0.138,"y":2.84,"y2":3.17,"sx":0.146,"sy":3,"t":"*"},{"x":0.028,"y":3.99,"y2":4.31,"sx":0.037,"sy":4.15,"t":"*"},{"x":0.137,"y":4.57,"y2":5.07,"sx":0.147,"sy":4.79,"t":"****"},{"x":0.161,"y":4.75,"y2":5.24,"sx":0.171,"sy":5,"t":"***"},{"x":0.03,"y":5.63,"y2":5.94,"sx":0.039,"sy":5.79,"t":"**"},{"x":0.05,"y":5.94,"y2":6.29,"sx":0.059,"sy":6.11,"t":"**"},{"x":0.041,"y":6.95,"y2":7.26,"sx":0.05,"sy":7.12,"t":"*"},{"x":0.055,"y":7.69,"y2":8.02,"sx":0.063,"sy":7.86,"t":"*"},{"x":0.073,"y":8,"y2":8.33,"sx":0.081,"sy":8.16,"t":"**"},{"x":0.525,"y":8.6,"y2":8.94,"sx":0.583,"sy":8.78,"t":"*"},{"x":0.645,"y":8.9,"y2":9.24,"sx":0.707,"sy":9.07,"t":"**"}],
"flabels":[{"t":"Genus level","x":0.1616,"y":-0.57}]
},
"layer":[
{"layer":[
{"data":{"name":"violin"},"mark":{"type":"area","orient":"horizontal","stroke":"#111","strokeWidth":1.2},"encoding":{"y":{"field":"y","type":"quantitative","scale":{"domain":[0,1.5],"range":[170,41.7],"nice":false,"zero":false},"axis":{"orient":"left","values":[0,0.5,1,1.5],"format":".1f","title":"Shannon index on Phylum level","titleFontSize":9.2,"titleFontWeight":"bold","labelFontSize":8.6,"labelFontWeight":"bold","offset":-44.3,"domainWidth":1.5,"tickWidth":1.5,"tickSize":5,"labelPadding":2,"titlePadding":4}},"x":{"field":"lo","type":"quantitative","scale":{"domain":[0.267,3.691],"range":[44.3,183],"nice":false,"zero":false},"axis":{"orient":"bottom","values":[1,2,3],"title":null,"labelExpr":"datum.value==1?'CON':datum.value==2?'HFD':'HFD+QA'","labelFontSize":9,"labelFontWeight":"bold","offset":-695,"domainWidth":1.5,"tickWidth":1.5,"tickSize":5,"labelPadding":3}},"x2":{"field":"hi"},"color":{"field":"g","type":"nominal","scale":{"domain":["CON","HFD","HFD+QA"],"range":["#1b8fd3","#e5424d","#0ea06a"]},"legend":null}}},
{"data":{"name":"vlines"},"mark":{"type":"rule","color":"#111","strokeWidth":1},"encoding":{"y":{"field":"y","type":"quantitative"},"x":{"field":"x","type":"quantitative"},"x2":{"field":"x2"}}},
{"data":{"name":"vsig"},"mark":{"type":"rule","color":"#444","strokeWidth":1.2},"encoding":{"y":{"field":"y","type":"quantitative"},"x":{"field":"x","type":"quantitative"},"x2":{"field":"x2"}}},
{"data":{"name":"vsig"},"mark":{"type":"text","fontSize":9,"fontWeight":"bold","color":"#444","baseline":"middle"},"encoding":{"y":{"field":"sy","type":"quantitative"},"x":{"field":"sx","type":"quantitative"},"text":{"field":"t"}}}
]},
{"layer":[
{"data":{"values":[{"v":-0.25},{"v":0},{"v":0.25},{"v":0.5},{"v":0.75},{"v":1},{"v":1.25},{"v":1.5},{"v":1.75}]},"mark":{"type":"rule","color":"#efefef","strokeWidth":0.8},"encoding":{"x":{"field":"v","type":"quantitative","scale":{"domain":[-0.378,1.927],"range":[263.7,438],"nice":false,"zero":false},"axis":{"orient":"bottom","values":[0,0.5,1,1.5],"format":".1f","title":"PCA1 (59.03%)","titleFontSize":8.6,"titleFontWeight":"bold","labelFontSize":6.5,"labelColor":"#444","offset":-686,"domain":false,"tickColor":"#555","tickSize":2,"labelPadding":2,"titlePadding":2}},"y":{"datum":-0.944,"type":"quantitative","scale":{"domain":[-0.944,1.345],"range":[179,18.3],"nice":false,"zero":false},"axis":{"orient":"left","values":[-0.5,0,0.5,1],"format":".1f","title":"PCA2 (17.51%)","titleFontSize":8.6,"titleFontWeight":"bold","labelFontSize":6.5,"labelColor":"#444","offset":-263.7,"domain":false,"tickColor":"#555","tickSize":2,"labelPadding":2,"titlePadding":1}},"y2":{"datum":1.345}}},
{"data":{"values":[{"v":-0.75},{"v":-0.5},{"v":-0.25},{"v":0},{"v":0.25},{"v":0.5},{"v":0.75},{"v":1},{"v":1.25}]},"mark":{"type":"rule","color":"#efefef","strokeWidth":0.8},"encoding":{"y":{"field":"v","type":"quantitative"},"x":{"datum":-0.378,"type":"quantitative"},"x2":{"datum":1.927}}},
{"data":{"name":"ell"},"mark":{"type":"area","interpolate":"monotone","fillOpacity":0.12,"strokeWidth":0.9},"encoding":{"x":{"field":"x","type":"quantitative"},"y":{"field":"lo","type":"quantitative"},"y2":{"field":"hi"},"detail":{"field":"g"},"fill":{"field":"g","type":"nominal","scale":{"domain":["HFD+QA","HFD","CON"],"range":["#1c7a5a","#e5333f","#1f8fd0"]},"legend":null},"stroke":{"field":"g","type":"nominal","scale":{"domain":["HFD","CON","HFD+QA"],"range":["#e8807f","#a9d6ee","#4fae85"]},"legend":null}}},
{"data":{"name":"pcalink"},"mark":{"type":"rule","color":"#0f9d63","strokeWidth":0.7},"encoding":{"x":{"field":"x","type":"quantitative"},"y":{"field":"y","type":"quantitative"},"x2":{"field":"x2"},"y2":{"field":"y2"}}},
{"data":{"name":"pca"},"mark":{"type":"point","filled":true,"size":34,"opacity":1},"encoding":{"x":{"field":"x","type":"quantitative"},"y":{"field":"y","type":"quantitative"},"color":{"field":"g","type":"nominal","scale":{"domain":["CON","HFD","HFD+QA"],"range":["#1f8fd0","#e5333f","#0f9d63"]},"legend":{"orient":"none","legendX":447,"legendY":78,"title":"Group","titleFontSize":8.5,"titleFontWeight":"bold","titleColor":"#000","labelFontSize":9,"labelColor":"#111","symbolSize":40,"symbolType":"circle","clipHeight":9.2,"rowPadding":-1.4,"titlePadding":7}}}},
{"data":{"name":"pca"},"transform":[{"filter":"datum.g=='CON'"}],"mark":{"type":"text","fontSize":7.6,"fontWeight":"bold","baseline":"middle","color":"#1f8fd0"},"encoding":{"x":{"field":"lx","type":"quantitative"},"y":{"field":"ly","type":"quantitative"},"text":{"field":"n"}}},
{"data":{"name":"pca"},"transform":[{"filter":"datum.g=='HFD'"}],"mark":{"type":"text","fontSize":7.6,"fontWeight":"bold","baseline":"middle","color":"#e5333f"},"encoding":{"x":{"field":"lx","type":"quantitative"},"y":{"field":"ly","type":"quantitative"},"text":{"field":"n"}}},
{"data":{"name":"pca"},"transform":[{"filter":"datum.g=='HFD+QA'"}],"mark":{"type":"text","fontSize":7.6,"fontWeight":"bold","baseline":"middle","color":"#0f9d63"},"encoding":{"x":{"field":"lx","type":"quantitative"},"y":{"field":"ly","type":"quantitative"},"text":{"field":"n"}}},
{"data":{"values":[{"x":-0.378,"y":-0.944,"x2":1.927,"y2":1.345}]},"mark":{"type":"rect","fill":null,"stroke":"#666","strokeWidth":1},"encoding":{"x":{"field":"x","type":"quantitative"},"x2":{"field":"x2"},"y":{"field":"y","type":"quantitative"},"y2":{"field":"y2"}}},
{"data":{"values":[{"t":"PCA on OTU level","x":0.763,"y":1.52}]},"mark":{"type":"text","font":"Liberation Serif","fontSize":10.5,"baseline":"middle","color":"#222"},"encoding":{"x":{"field":"x","type":"quantitative"},"y":{"field":"y","type":"quantitative"},"text":{"field":"t"}}},
{"data":{"name":"letters"},"mark":{"type":"text","font":"Liberation Serif","fontSize":13,"baseline":"middle","color":"#111"},"encoding":{"x":{"field":"x","type":"quantitative"},"y":{"field":"y","type":"quantitative"},"text":{"field":"t"}}}
]},
{"data":{"name":"phylum"},"mark":{"type":"bar","stroke":"#ffffff","strokeWidth":0.4},"encoding":{"x":{"field":"g","type":"nominal","scale":{"domain":["CON","HFD","HFD+QA"],"range":[561.7,677],"paddingInner":0.33,"paddingOuter":0.215,"align":0.68},"axis":{"orient":"bottom","title":null,"labelAngle":0,"labelFontSize":9,"labelFontWeight":"bold","offset":-662.3,"domainWidth":2,"tickWidth":2,"tickSize":6,"labelPadding":3}},"y":{"field":"v","type":"quantitative","stack":"zero","scale":{"domain":[0,1],"range":[202.7,16.7],"nice":false,"zero":false},"axis":{"orient":"left","values":[0,0.2,0.4,0.6,0.8,1],"format":".1f","title":"Percent of community abundance on Phylum level","titleFontSize":7.2,"titleFontWeight":"bold","labelFontSize":15,"labelFontWeight":"bold","offset":-561.7,"domainWidth":2,"tickWidth":2,"tickSize":8,"labelPadding":2,"titlePadding":5}},"order":{"field":"o"},"color":{"field":"p","type":"nominal","sort":{"field":"o"},"scale":{"range":["#34a5dc","#f09a98","#f5eeb0","#0aa850","#f4a85a","#b76aae","#8f8a50"]},"legend":{"orient":"none","legendX":699,"legendY":8.7,"title":null,"symbolType":"square","symbolSize":100,"symbolStrokeColor":"#333","symbolStrokeWidth":1,"labelFontSize":9.2,"labelColor":"#222","labelOffset":4,"clipHeight":14,"rowPadding":0,"labelLimit":200}}}},
{"layer":[
{"data":{"values":[{"x":0,"x2":1,"y":0,"y2":1}]},"mark":{"type":"rect","fill":"#ffffff","stroke":"#e5403f","strokeWidth":1.2},"encoding":{"x":{"field":"x","type":"quantitative","scale":{"domain":[0,1],"range":[677,797],"nice":false,"zero":false},"axis":null},"x2":{"field":"x2"},"y":{"field":"y","type":"quantitative","scale":{"domain":[0,1],"range":[172,121],"nice":false,"zero":false},"axis":null},"y2":{"field":"y2"}}},
{"data":{"values":[{"t":"F/B ratio","x":0.05,"y":0.575}]},"mark":{"type":"text","font":"Liberation Serif","fontWeight":"bold","fontSize":11.5,"align":"left","baseline":"middle","color":"#111"},"encoding":{"x":{"field":"x","type":"quantitative"},"y":{"field":"y","type":"quantitative"},"text":{"field":"t"}}},
{"data":{"name":"fb"},"mark":{"type":"text","font":"Liberation Serif","fontWeight":"bold","fontSize":7.2,"align":"left","baseline":"middle","color":"#111"},"encoding":{"x":{"field":"x","type":"quantitative"},"y":{"field":"y","type":"quantitative"},"text":{"field":"t"}}}
]},
{"data":{"name":"genus"},"transform":[{"lookup":"i","from":{"data":{"name":"genera"},"key":"i","fields":["name"]}}],"mark":{"type":"bar"},"encoding":{"x":{"field":"g","type":"nominal","scale":{"domain":["CON","HFD","HFD+QA"],"range":[206,368],"paddingInner":0.33,"paddingOuter":0.36,"align":0.456},"axis":{"orient":"bottom","title":null,"labelAngle":0,"labelFontSize":11,"labelFontWeight":"bold","offset":-364.3,"domainWidth":2,"tickWidth":2,"tickSize":8,"labelPadding":4}},"y":{"field":"v","type":"quantitative","stack":"zero","scale":{"domain":[0,1],"range":[500.7,261.7],"nice":false,"zero":false},"axis":{"orient":"left","values":[0,0.2,0.4,0.6,0.8,1],"format":".1f","title":"Percent of community abundance on Genus level","titleFontSize":9.8,"titleFontWeight":"bold","labelFontSize":17,"labelFontWeight":"bold","offset":-206,"domainWidth":2,"tickWidth":2,"tickSize":10,"labelPadding":2,"titlePadding":9}},"order":{"field":"i"},"color":{"field":"name","type":"nominal","sort":{"field":"i"},"scale":{"range":["#e98e85","#85c9dc","#52bcb2","#8291b2","#eeb8ac","#aab0c8","#abd9d0","#e26262","#a89a8c","#c9b8d5","#f0a898","#6fa5c3","#f0c270","#c5967a","#d6b28a","#ee8f85","#f0b5b5","#aac5da","#bde0c0","#dcc4dc","#f0d3a8","#e8efd0","#ddd2bc","#f2d5e0","#f0f0f0","#aad8c8","#f3ceae","#d8dce8","#ecd0e0","#dce8cc","#ffffff"]},"legend":{"orient":"none","legendX":372,"legendY":272,"title":null,"columns":2,"columnPadding":8,"rowPadding":0,"clipHeight":13.45,"symbolLimit":40,"symbolType":"square","symbolSize":36,"symbolStrokeWidth":0,"labelFontSize":6,"labelFontWeight":"bold","labelColor":"#222","labelOffset":3,"labelLimit":300}}}},
{"layer":[
{"data":{"name":"dendro"},"mark":{"type":"rule","color":"#8a8a8a","strokeWidth":0.8},"encoding":{"x":{"field":"m","type":"quantitative","scale":{"domain":[18,103],"range":[6,34.3],"nice":false,"zero":false},"axis":null},"y":{"field":"ya","type":"quantitative","scale":{"domain":[0.5,29.5],"range":[572.3,837.3],"nice":false,"zero":false},"axis":null},"y2":{"field":"yb"}}},
{"data":{"name":"dendro"},"mark":{"type":"rule","color":"#8a8a8a","strokeWidth":0.8},"encoding":{"x":{"field":"m","type":"quantitative"},"x2":{"field":"xa"},"y":{"field":"ya","type":"quantitative"}}},
{"data":{"name":"dendro"},"mark":{"type":"rule","color":"#8a8a8a","strokeWidth":0.8},"encoding":{"x":{"field":"m","type":"quantitative"},"x2":{"field":"xb"},"y":{"field":"yb","type":"quantitative"}}},
{"data":{"values":[{"t":"Heatmap","x":288,"y":-1.5}]},"mark":{"type":"text","fontSize":5.6,"fontWeight":"bold","baseline":"middle","color":"#222"},"encoding":{"x":{"field":"x","type":"quantitative"},"y":{"field":"y","type":"quantitative"},"text":{"field":"t"}}}
]},
{"data":{"name":"heat"},"transform":[{"lookup":"r","from":{"data":{"name":"hgenera"},"key":"r","fields":["name"]}}],"mark":{"type":"rect","stroke":"#bdbdbd","strokeWidth":0.5},"encoding":{"x":{"field":"s","type":"ordinal","scale":{"range":[34.3,156.7],"paddingInner":0,"paddingOuter":0},"axis":{"orient":"bottom","title":null,"labelExpr":"datum.value<=6?'CON'+datum.value:datum.value<=12?'HFD'+(datum.value-6):'HFD+QA'+(datum.value-12)","labelAngle":-45,"labelFontSize":4.6,"labelFontWeight":"bold","offset":-27.7,"domain":false,"ticks":false,"labelPadding":1}},"y":{"field":"name","type":"ordinal","sort":{"field":"r"},"scale":{"range":[572.3,837.3],"paddingInner":0,"paddingOuter":0},"axis":{"title":null,"orient":"right","labelFontSize":6,"labelFontWeight":"bold","labelColor":"#222","offset":-643.3,"domain":false,"ticks":false,"labelPadding":4,"labelLimit":300}},"color":{"field":"v","type":"quantitative","scale":{"domain":[-3.9,-2.2,-1.6,-1,-0.5,0,0.3,0.8,1.2,1.8,2.4,4.05],"range":["#2f56a6","#5aa3d8","#8cc7ea","#bcdcee","#dfe9ee","#eeefdc","#fbf6c8","#fde6aa","#fdd598","#f8ae76","#ee8a5c","#a81c40"]},"legend":{"orient":"none","legendX":302,"legendY":572,"title":null,"direction":"vertical","gradientLength":80,"gradientThickness":6,"values":[-2,0,2,4],"labelFontSize":5,"labelFontWeight":"bold","labelOffset":2,"tickCount":4}}}},
{"layer":[
{"data":{"name":"fbars"},"mark":{"type":"bar"},"encoding":{"x":{"field":"v","type":"quantitative","stack":null,"scale":{"domain":[0,0.2],"range":[558.3,655],"nice":false,"zero":false,"clamp":true},"axis":{"orient":"bottom","values":[0,0.05,0.1,0.15,0.2],"format":".2f","title":null,"labelAngle":-45,"labelFontSize":12.5,"labelFontWeight":"bold","offset":-59.3,"domainWidth":2,"tickWidth":2,"tickSize":5,"labelPadding":3,"labelOverlap":false}},"y":{"field":"c","type":"nominal","scale":{"domain":["unclassified_f__Lachnospiraceae","Lachnospiraceae_NK4A136_group","Blautia","norank_f__Oscillospiraceae","norank_f__Lachnospiraceae","Roseburia","Dubosiella","Colidextribacter","Akkermansia"],"range":[573,808],"paddingInner":0,"paddingOuter":0},"axis":{"orient":"left","title":null,"labelFontSize":9.5,"labelFontWeight":"bold","labelColor":"#222","offset":-558.3,"domainWidth":2,"tickWidth":2,"tickSize":10,"labelPadding":2,"labelLimit":300}},"yOffset":{"field":"g","type":"nominal","scale":{"domain":["CON","HFD","HFD+QA"],"range":[0,26.11],"paddingInner":0.28,"paddingOuter":0.505}},"color":{"field":"g","type":"nominal","scale":{"domain":["CON","HFD","HFD+QA"],"range":["#1b8fd3","#e23e47","#0f9d63"]},"legend":null}}},
{"data":{"name":"fbars"},"mark":{"type":"rule","strokeWidth":1},"encoding":{"x":{"field":"v","type":"quantitative"},"x2":{"field":"hi"},"y":{"field":"c","type":"nominal"},"yOffset":{"field":"g","type":"nominal"},"color":{"field":"g","type":"nominal"}}},
{"data":{"values":[{"c":"Akkermansia","t":"/"}]},"mark":{"type":"text","fontSize":20,"angle":35,"color":"#000","baseline":"middle","dx":1,"dy":11},"encoding":{"x":{"datum":0.2,"type":"quantitative"},"y":{"field":"c","type":"nominal"},"text":{"field":"t"}}},
{"data":{"values":[{"c":"Akkermansia","t":"/"}]},"mark":{"type":"text","fontSize":20,"angle":35,"color":"#000","baseline":"middle","dx":16.7,"dy":11},"encoding":{"x":{"datum":0.2,"type":"quantitative"},"y":{"field":"c","type":"nominal"},"text":{"field":"t"}}}
]},
{"layer":[
{"data":{"name":"fbars"},"transform":[{"filter":"datum.v>0.2"}],"mark":{"type":"bar"},"encoding":{"x":{"field":"v","type":"quantitative","stack":null,"scale":{"domain":[0.2,0.8],"range":[672.3,714],"nice":false,"zero":false,"clamp":true},"axis":{"orient":"bottom","values":[0.2,0.4,0.6,0.8],"format":".1f","title":null,"labelAngle":-45,"labelFontSize":12.5,"labelFontWeight":"bold","offset":-59.3,"domainWidth":2,"tickWidth":2,"tickSize":5,"labelPadding":3,"labelOverlap":false}},"y":{"field":"c","type":"nominal","scale":{"domain":["unclassified_f__Lachnospiraceae","Lachnospiraceae_NK4A136_group","Blautia","norank_f__Oscillospiraceae","norank_f__Lachnospiraceae","Roseburia","Dubosiella","Colidextribacter","Akkermansia"],"range":[573,808],"paddingInner":0,"paddingOuter":0},"axis":null},"yOffset":{"field":"g","type":"nominal","scale":{"domain":["CON","HFD","HFD+QA"],"range":[0,26.11],"paddingInner":0.28,"paddingOuter":0.505}},"color":{"field":"g","type":"nominal","scale":{"domain":["CON","HFD","HFD+QA"],"range":["#1b8fd3","#e23e47","#0f9d63"]},"legend":{"orient":"none","legendX":711,"legendY":567,"title":null,"symbolType":"M-1,-0.1H1V0.1H-1Z","symbolSize":676,"symbolStrokeWidth":0,"labelFontSize":9.5,"labelFontWeight":"bold","labelColor":"#222","labelOffset":12,"clipHeight":20,"rowPadding":0}}}},
{"data":{"name":"fbars"},"transform":[{"filter":"datum.v>0.2"}],"mark":{"type":"rule","strokeWidth":1},"encoding":{"x":{"field":"v","type":"quantitative"},"x2":{"field":"hi"},"y":{"field":"c","type":"nominal"},"yOffset":{"field":"g","type":"nominal"},"color":{"field":"g","type":"nominal"}}}
]},
{"layer":[
{"data":{"name":"fsig"},"mark":{"type":"rule","color":"#222","strokeWidth":1.1},"encoding":{"x":{"field":"x","type":"quantitative","scale":{"domain":[0,0.2,0.2001,0.8],"range":[558.3,655,672.3,714],"nice":false,"zero":false},"axis":null},"y":{"field":"y","type":"quantitative","scale":{"domain":[0.5,9.5],"range":[573,808],"nice":false,"zero":false},"axis":null},"y2":{"field":"y2"}}},
{"data":{"name":"fsig"},"mark":{"type":"text","angle":90,"fontSize":8,"fontWeight":"bold","color":"#222","baseline":"middle"},"encoding":{"x":{"field":"sx","type":"quantitative"},"y":{"field":"sy","type":"quantitative"},"text":{"field":"t"}}},
{"data":{"name":"flabels"},"mark":{"type":"text","fontSize":22,"fontWeight":"bold","color":"#222","baseline":"middle"},"encoding":{"x":{"field":"x","type":"quantitative"},"y":{"field":"y","type":"quantitative"},"text":{"field":"t"}}}
]}
],
"resolve":{"scale":{"x":"independent","y":"independent","color":"independent","fill":"independent","stroke":"independent","yOffset":"independent"},"axis":{"x":"independent","y":"independent"},"legend":{"color":"independent"}}
}
